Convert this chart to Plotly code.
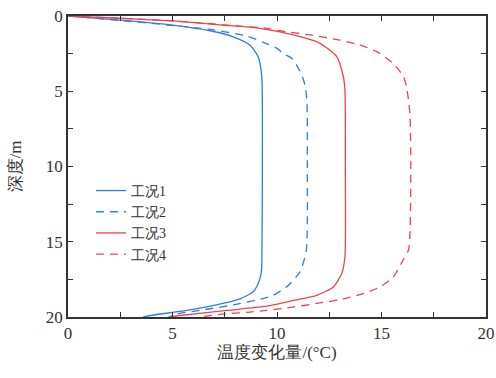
import plotly.graph_objects as go

names = ["工况1", "工况2", "工况3", "工况4"]

depth1 = [0, 0.27, 0.6, 0.98, 1.38, 1.93, 2.7, 4.0, 10, 15.6, 16.9, 17.6, 18.3, 18.8, 19.2, 19.56, 19.94, 20]
temp1 = [0, 2.5, 5.0, 6.8, 7.9, 8.7, 9.1, 9.27, 9.3, 9.28, 9.26, 9.15, 8.87, 8.23, 7.1, 5.68, 3.77, 3.6]

depth2 = [0, 0.3, 0.6, 0.89, 1.33, 1.75, 2.15, 2.5, 2.8, 3.26, 3.9, 4.6, 5.6, 10, 15.6, 17.0, 17.9, 18.56, 18.75, 19.2, 19.56, 19.8, 20]
temp2 = [0, 2.5, 4.8, 6.8, 8.55, 9.35, 10.0, 10.3, 10.7, 10.94, 11.18, 11.34, 11.43, 11.45, 11.4, 11.1, 10.54, 9.82, 9.4, 7.9, 6.3, 5.2, 4.8]

depth3 = [0, 0.15, 0.33, 0.6, 0.82, 1.26, 1.82, 2.7, 4.0, 4.9, 10, 16, 17.1, 18.0, 18.56, 18.9, 19.3, 19.56, 19.9, 20]
temp3 = [0, 2.5, 5.0, 7.4, 9.19, 10.78, 12.06, 12.86, 13.17, 13.25, 13.27, 13.25, 13.1, 12.7, 11.9, 10.78, 9.4, 7.6, 5.36, 4.9]

depth4 = [0, 0.15, 0.32, 0.6, 0.82, 0.98, 1.26, 1.6, 1.93, 2.37, 3.15, 4.0, 4.7, 6.5, 10, 15.5, 16.2, 17.35, 18.0, 18.45, 18.85, 19.1, 19.4, 19.56, 19.67, 19.83, 20]
temp4 = [0, 2.5, 5.0, 7.6, 9.5, 10.1, 11.58, 13.0, 13.97, 14.77, 15.56, 16.04, 16.2, 16.36, 16.4, 16.3, 16.04, 15.56, 14.93, 14.13, 13.0, 11.9, 10.46, 9.5, 8.7, 7.27, 6.3]

x_ticks = [0, 5, 10, 15, 20]
y_ticks = [0, 5, 10, 15, 20]

blue = "#2f7ee3"
red = "#f04448"
series = [
    (temp1, depth1, blue, "solid"),
    (temp2, depth2, blue, "8px,6px"),
    (temp3, depth3, red, "solid"),
    (temp4, depth4, red, "8px,6px"),
]

font_fam = "'Liberation Serif', 'Times New Roman', Times, serif"

fig = go.Figure()
for name, (t, d, c, dash) in zip(names, series):
    fig.add_trace(go.Scatter(x=t, y=d, mode="lines", name=name,
                             line=dict(color=c, width=1.3, dash=dash, shape="spline", smoothing=0.6)))

axis_common = dict(showline=True, linecolor="#333", linewidth=1.5, mirror="allticks",
                   ticks="inside", ticklen=5, tickcolor="#333", tickwidth=1.2,
                   showgrid=False, zeroline=False, automargin=False,
                   tickfont=dict(family=font_fam, size=17, color="#333"),
                   minor=dict(dtick=2.5, ticks="inside", ticklen=5, tickcolor="#333", tickwidth=1.2, showgrid=False))

fig.update_xaxes(range=[0, 20], tickvals=x_ticks, title=dict(text="温度变化量/(°C)", standoff=4,
                 font=dict(family=font_fam, size=17, color="#333")), **axis_common)
fig.update_yaxes(range=[20, 0], tickvals=y_ticks, title=dict(text="深度/m", standoff=20,
                 font=dict(family=font_fam, size=17, color="#333")), **axis_common)

fig.update_layout(width=496, height=378, margin=dict(l=68, r=10, t=16, b=61),
                  plot_bgcolor="white", paper_bgcolor="white",
                  font=dict(family=font_fam, color="#333"),
                  showlegend=True,
                  legend=dict(x=0.055, y=0.472, xanchor="left", yanchor="top", bgcolor="rgba(0,0,0,0)",
                              font=dict(family=font_fam, size=14, color="#333"),
                              tracegroupgap=0, itemwidth=30))

fig.write_html("out.html", config={"displayModeBar": False},
               post_script="document.body.style.margin='0';document.body.style.overflow='hidden';")
